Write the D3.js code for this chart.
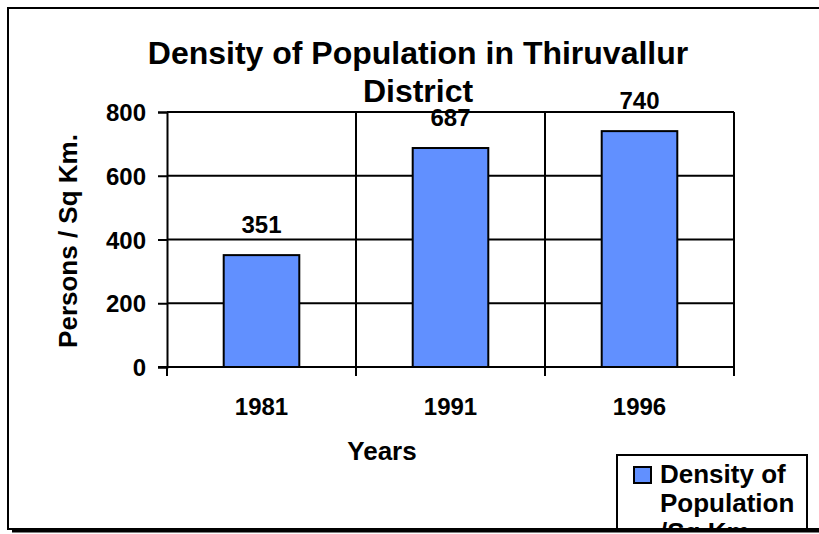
<!DOCTYPE html>
<html>
<head>
  <meta charset="utf-8">
  <title>Density of Population in Thiruvallur District</title>
  <script src="https://d3js.org/d3.v7.min.js"></script>
  <style>
    body { margin: 0; background: #fff; }
    svg text { font-family: Arial, "Liberation Sans", sans-serif; font-weight: bold; fill: #000; }
  </style>
</head>
<body>
  <div id="chart"></div>
  <script>
    "use strict";

    // data
    var anos = ["1981", "1991", "1996"];
    var densidade = [351, 687, 740];
    var marcasY = [0, 200, 400, 600, 800];
    var nomeSerie = ["Density of", "Population", "/Sq.Km."];

    var largura = 819, altura = 534;
    var plot = { left: 167, right: 734, top: 112, bottom: 367 };

    var svg = d3.select("#chart").append("svg")
      .attr("width", largura)
      .attr("height", altura);

    // clip to the chart frame (legend is cut by the bottom edge)
    svg.append("clipPath").attr("id", "frame")
      .append("rect").attr("x", 8).attr("y", 8).attr("width", 830).attr("height", 521);

    var g = svg.append("g").attr("clip-path", "url(#frame)");

    var x = d3.scaleBand()
      .domain(anos)
      .range([plot.left, plot.right])
      .paddingInner(0.6)
      .paddingOuter(0.3);

    var y = d3.scaleLinear()
      .domain([0, 800])
      .range([plot.bottom, plot.top]);

    // gridlines
    g.append("g").selectAll("line")
      .data(marcasY.slice(1))
      .enter().append("line")
        .attr("x1", plot.left).attr("x2", plot.right)
        .attr("y1", d => y(d)).attr("y2", d => y(d))
        .attr("stroke", "#000").attr("stroke-width", 2);

    // vertical category separators
    var limites = [plot.left + x.step(), plot.left + 2 * x.step(), plot.right];
    g.append("g").selectAll("line")
      .data(limites)
      .enter().append("line")
        .attr("x1", d => d).attr("x2", d => d)
        .attr("y1", plot.top).attr("y2", plot.bottom)
        .attr("stroke", "#000").attr("stroke-width", 2);

    // bars
    g.append("g").selectAll("rect")
      .data(densidade)
      .enter().append("rect")
        .attr("x", (d, i) => x(anos[i]))
        .attr("width", x.bandwidth())
        .attr("y", d => y(d))
        .attr("height", d => y(0) - y(d))
        .attr("fill", "#6190ff")
        .attr("stroke", "#000").attr("stroke-width", 2);

    // value labels
    g.append("g").selectAll("text")
      .data(densidade)
      .enter().append("text")
        .attr("x", (d, i) => x(anos[i]) + x.bandwidth() / 2)
        .attr("y", d => y(d) - 22)
        .attr("text-anchor", "middle")
        .attr("font-size", 24)
        .text(d => d);

    // y axis
    var eixoY = g.append("g")
      .attr("transform", "translate(" + plot.left + ",0)")
      .call(d3.axisLeft(y).tickValues(marcasY).tickSize(9).tickPadding(12));
    eixoY.selectAll("path, line").attr("stroke", "#000").attr("stroke-width", 2);
    eixoY.selectAll("text").attr("font-size", 24).attr("fill", "#000")
      .attr("font-family", "Arial, 'Liberation Sans', sans-serif").attr("dy", "0.36em");

    // x axis
    var eixoX = g.append("g")
      .attr("transform", "translate(0," + plot.bottom + ")")
      .call(d3.axisBottom(x).tickSize(0));
    eixoX.select(".domain").attr("stroke", "#000").attr("stroke-width", 2)
      .attr("d", "M" + (plot.left - 9) + ",0H" + plot.right);
    eixoX.selectAll("text").attr("font-size", 24).attr("fill", "#000")
      .attr("font-family", "Arial, 'Liberation Sans', sans-serif")
      .attr("y", 48).attr("dy", 0);
    // tick marks on category boundaries
    eixoX.selectAll(".borda")
      .data([plot.left].concat(limites))
      .enter().append("line")
        .attr("class", "borda")
        .attr("x1", d => d).attr("x2", d => d)
        .attr("y1", 0).attr("y2", 9)
        .attr("stroke", "#000").attr("stroke-width", 2);

    // titles
    g.append("text")
      .attr("x", 418).attr("y", 64)
      .attr("text-anchor", "middle").attr("font-size", 32)
      .text("Density of Population in Thiruvallur");
    g.append("text")
      .attr("x", 418).attr("y", 102)
      .attr("text-anchor", "middle").attr("font-size", 32)
      .text("District");

    g.append("text")
      .attr("x", 382).attr("y", 460)
      .attr("text-anchor", "middle").attr("font-size", 26)
      .text("Years");

    g.append("text")
      .attr("transform", "translate(77,241) rotate(-90)")
      .attr("text-anchor", "middle").attr("font-size", 26)
      .text("Persons / Sq Km.");

    // legend
    var legenda = g.append("g").attr("transform", "translate(617,455)");
    legenda.append("rect")
      .attr("width", 190).attr("height", 100)
      .attr("fill", "#fff").attr("stroke", "#000").attr("stroke-width", 2);
    legenda.append("rect")
      .attr("x", 17).attr("y", 12).attr("width", 17).attr("height", 16)
      .attr("fill", "#6190ff").attr("stroke", "#000").attr("stroke-width", 2);
    legenda.selectAll("text.item")
      .data(nomeSerie)
      .enter().append("text")
        .attr("class", "item")
        .attr("x", 43)
        .attr("y", (d, i) => 28 + i * 29)
        .attr("font-size", 26)
        .text(d => d);

    // frame with shadow
    svg.append("line")
      .attr("x1", 12).attr("x2", largura).attr("y1", 531).attr("y2", 531)
      .attr("stroke", "#000").attr("stroke-width", 3);
    svg.append("rect")
      .attr("x", 8).attr("y", 8).attr("width", 830).attr("height", 521)
      .attr("fill", "none").attr("stroke", "#000").attr("stroke-width", 2);
  </script>
</body>
</html>
